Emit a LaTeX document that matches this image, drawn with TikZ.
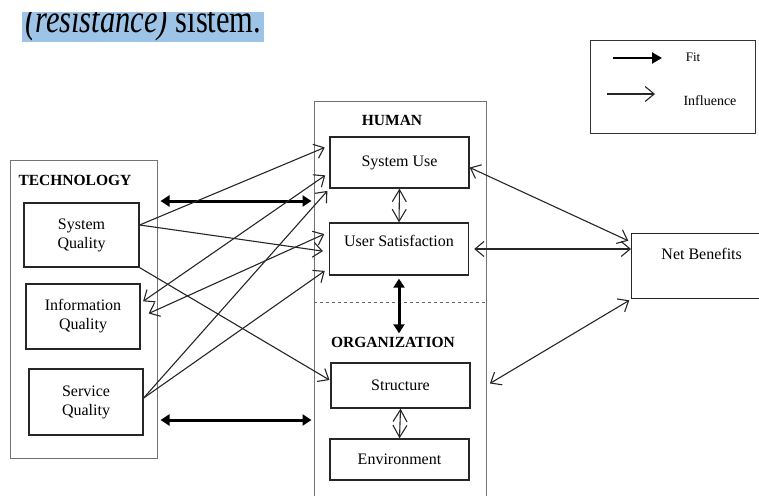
\documentclass[tikz,border=0pt]{standalone}
\usepackage{fontspec}
\setmainfont{Liberation Serif}
\usepackage{graphicx}
\usetikzlibrary{arrows.meta}
\definecolor{hilite}{RGB}{157,195,230}

\tikzset{
  box/.style={draw=black!85, line width=1.3pt, minimum width=139, minimum height=51,
    align=center, font=\fontsize{16}{19}\selectfont},
  frame/.style={draw=black!55, line width=1pt},
  grp/.style={font=\fontsize{15.5}{18}\selectfont\bfseries},
  infl/.style={draw=black!85, line width=1.1pt, -{Straight Barb[length=9pt,width=15pt]}},
  infl2/.style={infl, {Straight Barb[length=9pt,width=15pt]}-{Straight Barb[length=9pt,width=15pt]}},
  dbl/.style={draw=black!85, line width=1.1pt,
    {Straight Barb[length=12pt,width=14pt]}-{Straight Barb[length=12pt,width=14pt]}},
  fitarr/.style={line width=3pt, {Triangle[length=9pt,width=11pt]}-{Triangle[length=9pt,width=11pt]}},
  fitone/.style={line width=2pt, -{Triangle[length=10pt,width=11pt]}}
}

\begin{document}
\begin{tikzpicture}[x=1pt, y=-1pt]
\useasboundingbox (0,0) rectangle (759,495);

\begin{scope}
\clip (0,13) rectangle (759,60);
\node[fill=hilite, anchor=base west, inner xsep=3pt, inner ysep=1pt] (hdr) at (22,33)
  {\fontsize{30.5}{30}\selectfont\scalebox{1}[1.3]{\textit{(resistance)} sistem.}};
\end{scope}

\node[draw=black!80, line width=1pt, minimum width=165, minimum height=93, anchor=north west] (legend) at (590,40) {};
\coordinate (fitA) at (613,58);
\coordinate (fitB) at (662,58);
\coordinate (infA) at (607,94);
\coordinate (infB) at (655,94);
\draw[fitone] (fitA) -- (fitB);
\draw[infl] (infA) -- (infB);
\node[font=\fontsize{13}{15}\selectfont] (fitlbl) at (693,57) {Fit};
\node[font=\fontsize{14}{16}\selectfont] (infllbl) at (710,101) {Influence};

\node[frame, minimum width=147, minimum height=298] (tech) at (83.5,309) {};
\node[grp, anchor=west] (techlbl) at (15,180) {TECHNOLOGY};
\node[box, minimum width=115, minimum height=64] (sq) at (81.5,235) {System\\Quality};
\node[box, minimum width=114, minimum height=65] (iq) at (83,316.5) {Information\\Quality};
\node[box, minimum width=114, minimum height=66] (svq) at (86,402) {Service\\Quality};

\node[frame, minimum width=172, minimum height=410] (hum) at (400,306) {};
\node[grp] (human) at (392,120) {HUMAN};
\node[box] (su) at (399.5,162.5) {System Use};
\node[box, minimum height=52, text height=11pt, text depth=17pt] (us) at (399,249) {User Satisfaction};
\node[grp] (org) at (393,342) {ORGANIZATION};
\node[box, minimum height=45] (st) at (400.5,385.5) {Structure};
\node[box, minimum height=41] (env) at (399.5,459.5) {Environment};

\node[box, minimum width=140, minimum height=65, text height=11pt, text depth=24pt, anchor=north west] (nb) at (631,233) {Net Benefits};

\draw[dashed, black!60, line width=0.8pt] (hum.west |- 0,302) -- (hum.east |- 0,302);

\draw[fitarr, shorten <=3, shorten >=2] (tech.east |- 0,201) -- (hum.west |- 0,201);
\draw[fitarr, shorten <=3, shorten >=2] (tech.east |- 0,420) -- (hum.west |- 0,420);
\draw[fitarr, shorten <=3] (us.south) -- (us.south |- org.north);

\draw[dbl] (su.south) -- (us.north);
\draw[dbl] (st.south) -- (env.north);

\draw[infl, shorten >=5] ([yshift=10]sq.east) -- ([yshift=17]su.west);
\draw[infl, shorten >=6] ([yshift=10]sq.east) -- ([yshift=-3]us.west);
\draw[infl2, shorten <=3, shorten >=5] ([yshift=13.5]iq.east) -- ([yshift=-10]su.west);
\draw[infl2, shorten >=5] ([xshift=8, yshift=3]iq.east) -- ([yshift=17]us.west);
\draw[infl, shorten >=3] ([yshift=4]svq.east) -- (su.south west);
\draw[infl, shorten >=5] ([yshift=4]svq.east) -- ([yshift=-19]us.west);
\draw[infl, shorten >=1] (sq.south east) -- ([yshift=5]st.west);

\draw[infl2, shorten >=3] ([yshift=-5]su.east) -- ([yshift=-9]nb.north west);
\draw[infl2, shorten <=5] (us.east) -- (us.east -| nb.west);
\draw[infl2, shorten <=4, shorten >=2] (hum.east |- st.east) -- (nb.south west);
\end{tikzpicture}
\end{document}
